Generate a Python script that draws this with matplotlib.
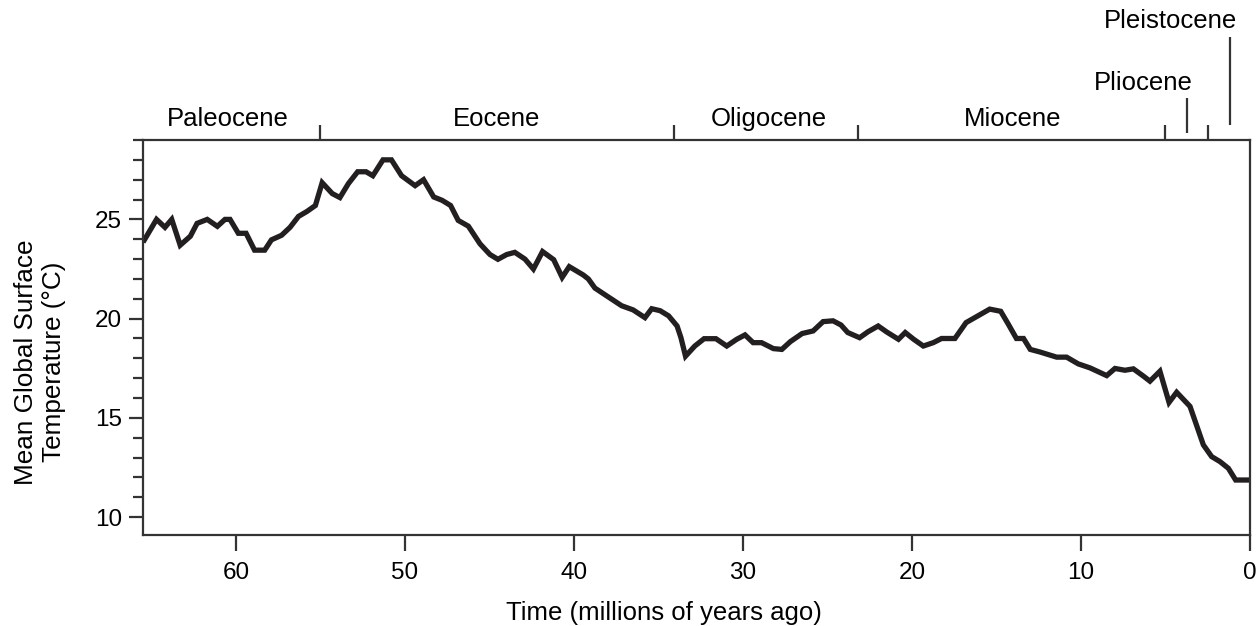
import matplotlib
matplotlib.use("Agg")
import matplotlib.pyplot as plt
from matplotlib.ticker import MultipleLocator
import matplotlib.transforms as mtransforms

plt.rcParams['font.family'] = ['Liberation Sans', 'DejaVu Sans']

# ---- data ----
time_mya = [65.5, 64.7, 64.2, 63.8, 63.3, 62.7, 62.3, 61.7, 61.1, 60.65, 60.35,
            59.86, 59.4, 58.9, 58.3, 57.9, 57.3, 56.8, 56.3, 55.8, 55.3, 54.9,
            54.3, 53.85, 53.35, 52.8, 52.3, 51.9, 51.3, 50.8, 50.2, 49.4, 48.9,
            48.3, 47.8, 47.3, 46.85, 46.25, 45.56, 44.97, 44.5, 43.98, 43.5,
            42.9, 42.4, 41.86, 41.2, 40.7, 40.28, 39.45, 39.15, 38.76, 38.07,
            37.18, 36.5, 35.8, 35.4, 34.9, 34.4, 33.9, 33.67, 33.4, 32.85, 32.3,
            31.6, 30.96, 30.37, 29.88, 29.4, 28.9, 28.2, 27.7, 27.2, 26.5, 25.85,
            25.26, 24.67, 24.2, 23.8, 23.1, 22.6, 22.0, 21.5, 20.8, 20.4, 19.9,
            19.33, 18.74, 18.25, 17.46, 16.8, 16.1, 15.4, 14.75, 14.3, 13.82,
            13.4, 13.0, 12.43, 11.44, 10.85, 10.16, 9.47, 8.48, 7.99, 7.4, 6.9,
            6.3, 5.92, 5.33, 4.79, 4.34, 3.55, 2.76, 2.27, 1.78, 1.28, 0.85, 0.0]
temp_c = [23.85, 25.0, 24.6, 25.0, 23.7, 24.15, 24.8, 25.0, 24.65, 25.0, 25.0,
          24.3, 24.3, 23.45, 23.45, 23.97, 24.2, 24.6, 25.15, 25.4, 25.7, 26.85,
          26.3, 26.1, 26.8, 27.4, 27.4, 27.2, 28.0, 28.0, 27.2, 26.7, 27.0,
          26.13, 25.96, 25.7, 24.95, 24.66, 23.77, 23.23, 22.99, 23.23, 23.34,
          23.0, 22.5, 23.38, 22.97, 22.08, 22.62, 22.2, 22.0, 21.54, 21.15,
          20.65, 20.44, 20.05, 20.5, 20.4, 20.14, 19.63, 19.04, 18.11, 18.62, 18.99,
          18.99, 18.62, 18.96, 19.18, 18.79, 18.79, 18.49, 18.45, 18.84, 19.25, 19.38,
          19.85, 19.89, 19.68, 19.3, 19.04, 19.34, 19.63, 19.33, 18.96, 19.3, 18.96,
          18.62, 18.79, 19.0, 19.0, 19.8, 20.14, 20.48, 20.37, 19.72, 19.0,
          19.0, 18.45, 18.32, 18.06, 18.06, 17.72, 17.52, 17.13, 17.49, 17.4, 17.47,
          17.1, 16.85, 17.35, 15.78, 16.29, 15.58, 13.64, 13.05, 12.8, 12.46, 11.87, 11.87]

x_ticks = [60, 50, 40, 30, 20, 10, 0]
y_ticks = [10, 15, 20, 25]

epoch_boundaries = [55.0, 34.1, 23.2, 5.0, 2.5]
epoch_names = ['Paleocene', 'Eocene', 'Oligocene', 'Miocene']
epoch_label_x = [60.5, 44.6, 28.5, 14.05]
pliocene_line_x = 3.7
pleistocene_line_x = 1.2

# ---- figure ----
W, H = 1257, 626
fig = plt.figure(figsize=(W / 100, H / 100), dpi=100)
ax = fig.add_axes([143 / W, 1 - 535 / H, (1250 - 143) / W, (535 - 140) / H])

line_col = '#231f20'
spine_col = '#333333'

ax.plot(time_mya, temp_c, color=line_col, lw=3.8, solid_joinstyle='miter',
        solid_capstyle='butt')

ax.set_xlim(65.5, 0)
ax.set_ylim(9.1, 29)

ax.set_xticks(x_ticks)
ax.set_yticks(y_ticks)
ax.yaxis.set_minor_locator(MultipleLocator(1))

for s in ax.spines.values():
    s.set_linewidth(1.6)
    s.set_color(spine_col)

ax.tick_params(axis='x', which='major', direction='out', length=11.5, width=1.6,
               color=spine_col, labelsize=17.5, pad=8)
ax.tick_params(axis='y', which='major', direction='out', length=10, width=1.6,
               color=spine_col, labelsize=17.5, pad=5)
ax.tick_params(axis='y', which='minor', direction='out', length=7.5, width=1.6,
               color=spine_col)

# epoch ticks on top
trans = mtransforms.blended_transform_factory(ax.transData, ax.transAxes)
ax.vlines(epoch_boundaries, 1.0, 1.038, transform=trans, colors=spine_col,
          lw=1.6, clip_on=False)
ax.vlines([pliocene_line_x], 1.018, 1.106, transform=trans, colors=spine_col,
          lw=1.6, clip_on=False)
ax.vlines([pleistocene_line_x], 1.038, 1.261, transform=trans, colors=spine_col,
          lw=1.6, clip_on=False)

for name, xp in zip(epoch_names, epoch_label_x):
    ax.text(xp, 1.035, name, transform=trans, ha='center', va='baseline',
            fontsize=18.5, color='black')
ax.text(6.3, 1.127, 'Pliocene', transform=trans, ha='center', va='baseline',
        fontsize=18.5, color='black')
ax.text(4.7, 1.283, 'Pleistocene', transform=trans, ha='center', va='baseline',
        fontsize=18.5, color='black')

fig.text(0.528, 1 - 620 / H, 'Time (millions of years ago)', ha='center',
         va='baseline', fontsize=18.5)
fig.text(40 / W, 1 - 362 / H, 'Mean Global Surface\nTemperature (°C)',
         rotation=90, ha='center', va='center', multialignment='center',
         fontsize=18.8, linespacing=1.25)

fig.savefig('out.png', dpi=100)
